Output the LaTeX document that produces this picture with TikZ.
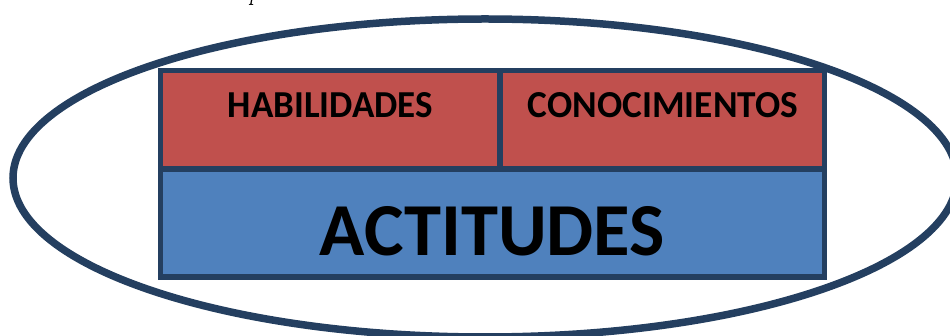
\documentclass[tikz,border=0pt]{standalone}
\usepackage{fontspec}
\setmainfont{Carlito}
\newfontfamily\capfont{Latin Modern Roman}
\definecolor{navy}{HTML}{243F60}
\definecolor{redfill}{HTML}{C0504D}
\definecolor{bluefill}{HTML}{4F81BD}
\begin{document}
\begin{tikzpicture}[x=1pt,y=-1pt,
  panel/.style={draw=navy, line width=5.5pt, rectangle, inner sep=0pt, outer sep=0pt},
  redpanel/.style={panel, fill=redfill},
  bluepanel/.style={panel, fill=bluefill},
  lbl/.style={inner sep=0pt, outer sep=0pt, anchor=center, text=black}]
\useasboundingbox (0,0) rectangle (950,336);
\draw[navy, line width=7.5pt] (485,178) ellipse [x radius=472pt, y radius=159pt];
\node[redpanel, minimum width=339.5pt, minimum height=98.5pt] (hab) at (330.25,119.75) {};
\node[redpanel, minimum width=324.5pt, minimum height=98.5pt] (con) at (662.25,119.75) {};
\node[bluepanel, minimum width=664pt, minimum height=108pt] (act) at (492.5,223) {};
\node[lbl] (habt) at (330.5,105.5) {\resizebox{205pt}{25pt}{\bfseries HABILIDADES}};
\node[lbl] (cont) at (663,105.5) {\resizebox{270pt}{25pt}{\bfseries CONOCIMIENTOS}};
\node[lbl] (actt) at (492.5,231.5) {\resizebox{345pt}{49pt}{\bfseries ACTITUDES}};
\node[inner sep=0pt, anchor=base, font=\capfont\itshape\fontsize{22}{24}\selectfont] (p) at (254,-0.5) {\scalebox{1}[1.4]{p}};
\end{tikzpicture}
\end{document}
